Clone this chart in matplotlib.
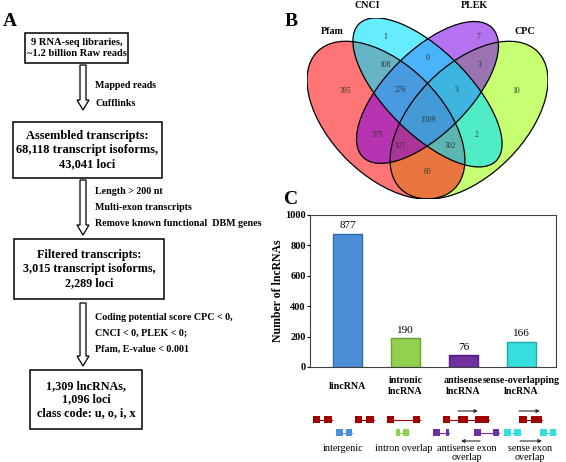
"""Recreate the three-panel lncRNA identification figure (flowchart, Venn, bar chart)."""

import matplotlib
matplotlib.use("Agg")
import matplotlib.pyplot as plt
from matplotlib.patches import Ellipse, FancyArrow, Rectangle

# ---- data -----------------------------------------------------------------
FLOW_BOXES = [
    "9 RNA-seq libraries,\n~1.2 billion Raw reads",
    "Assembled transcripts:\n68,118 transcript isoforms,\n43,041 loci",
    "Filtered transcripts:\n3,015 transcript isoforms,\n2,289 loci",
    "1,309 lncRNAs,\n1,096 loci\nclass code: u, o, i, x",
]
FLOW_STEPS = [
    ["Mapped reads", "Cufflinks"],
    ["Length > 200 nt", "Multi-exon transcripts",
     "Remove known functional  DBM genes"],
    ["Coding potential score CPC < 0,", "CNCI < 0, PLEK < 0;",
     "Pfam, E-value < 0.001"],
]

VENN_SETS = ["Pfam", "CNCI", "PLEK", "CPC"]
# region counts: Pfam, CNCI, PLEK, CPC only; then overlaps
VENN_COUNTS = [395, 1, 7, 10, 108, 0, 3, 276, 3, 1309, 379, 2, 127, 302, 60]

CATEGORIES = ["lincRNA", "intronic\nlncRNA", "antisense\nlncRNA",
              "sense-overlapping\nlncRNA"]
LNC_COUNTS = [877, 190, 76, 166]
GENE_TYPES = ["intergenic", "intron overlap", "antisense exon\noverlap",
              "sense exon\noverlap"]

# ---- layout / style -------------------------------------------------------
W, H = 566, 462
BOX_RECTS = [(25, 33, 128, 63), (13, 122, 162, 178), (14, 239, 164, 299),
             (30, 370, 142, 429)]
BOX_FONTS = [7.6, 9.0, 8.7, 8.7]
ARROWS = [(65, 110), (180, 235), (303, 366)]
STEP_Y0 = [86, 191, 318]
STEP_DY = [17, 16, 15.5]

# VennDiagram-style ellipses (x, y, a, b, rotation) in unit coords
ELLIPSES = {
    "CPC": (0.65, 0.47, 0.35, 0.20, 45, "#99ff00", 0.55),
    "Pfam": (0.35, 0.47, 0.35, 0.20, 135, "#ff1a1a", 0.6),
    "PLEK": (0.50, 0.57, 0.33, 0.15, 45, "#7a00e6", 0.55),
    "CNCI": (0.50, 0.57, 0.35, 0.15, 135, "#00e0ff", 0.6),
}
VENN_LABEL_POS = [(332, 31), (367, 6), (474, 6), (525, 32)]
VENN_COUNT_POS = [(345, 91), (385, 37), (478, 37), (516, 91), (385, 65),
                  (428, 58), (480, 65), (400, 90), (457, 90), (428, 120),
                  (377, 135), (477, 135), (400, 146), (450, 146), (427, 172)]

BAR_COLORS = ["#4a8fd8", "#92d050", "#7030a0", "#36dede"]
BAR_EDGES = ["#2f6aa6", "#6e9e35", "#4d1f72", "#1fa8a8"]

EXON_RED = "#a00000"
GENE_COLORS = ["#4a8fd8", "#92d050", "#7030a0", "#36dede"]

plt.rcParams.update({
    "font.family": "serif",
    "font.serif": ["Liberation Serif", "DejaVu Serif"],
})

fig = plt.figure(figsize=(W / 100, H / 100), dpi=100)

# ---- panel B: Venn --------------------------------------------------------
axv = fig.add_axes([307 / W, 1 - 199 / H, 241 / W, 181 / H])
axv.set_xlim(0.065, 0.935)
axv.set_ylim(0.185, 0.839)
axv.axis("off")
for name, (cx, cy, a, b, rot, col, alpha) in ELLIPSES.items():
    axv.add_patch(Ellipse((cx, cy), 2 * a, 2 * b, angle=rot,
                          facecolor=col, alpha=alpha, edgecolor="none"))
for name, (cx, cy, a, b, rot, col, alpha) in ELLIPSES.items():
    axv.add_patch(Ellipse((cx, cy), 2 * a, 2 * b, angle=rot,
                          facecolor="none", edgecolor="black", lw=0.9))

# ---- panel C: bar chart ---------------------------------------------------
axb = fig.add_axes([310 / W, 1 - 367 / H, 246 / W, 152 / H])
xs = range(len(LNC_COUNTS))
axb.bar(xs, LNC_COUNTS, width=0.5, color=BAR_COLORS, edgecolor=BAR_EDGES,
        linewidth=1.0, zorder=2)
for x, v in zip(xs, LNC_COUNTS):
    axb.text(x, v + 22, str(v), ha="center", va="bottom", fontsize=8)
axb.set_xlim(-0.647, 3.595)
axb.set_ylim(0, 1000)
axb.set_yticks(range(0, 1001, 200))
axb.set_xticks([])
axb.tick_params(axis="y", direction="out", length=2, width=0.8,
                labelsize=7.5, pad=1)
for lab in axb.get_yticklabels():
    lab.set_fontweight("bold")
for sp in axb.spines.values():
    sp.set_linewidth(0.8)
    sp.set_color("#404040")
axb.set_ylabel("Number of lncRNAs", fontsize=8.5, fontweight="bold",
               labelpad=1)
for x, cat in zip(xs, CATEGORIES):
    axb.annotate(cat, xy=(x, 0), xycoords="data", xytext=(0, -13.8),
                 textcoords="offset points", ha="center", va="center",
                 fontsize=7.2, fontweight="bold", linespacing=1.2)

# ---- overlay in pixel coordinates ----------------------------------------
ax = fig.add_axes([0, 0, 1, 1])
ax.set_xlim(0, W)
ax.set_ylim(H, 0)
ax.axis("off")
ax.patch.set_alpha(0)

# panel letters
for letter, (lx, ly) in zip("ABC", [(10, 22), (291, 22), (291, 200)]):
    ax.text(lx, ly, letter, fontsize=14, fontweight="bold",
            ha="center", va="center")

# panel A flowchart
for (x0, y0, x1, y1), txt, fs in zip(BOX_RECTS, FLOW_BOXES, BOX_FONTS):
    ax.add_patch(Rectangle((x0, y0), x1 - x0, y1 - y0, facecolor="white",
                           edgecolor="black", lw=1.1))
    ax.text((x0 + x1) / 2, (y0 + y1) / 2, txt, ha="center", va="center",
            fontsize=fs, fontweight="bold", linespacing=1.2)
for (ya, yb), steps, sy, sdy in zip(ARROWS, FLOW_STEPS, STEP_Y0, STEP_DY):
    ax.add_patch(FancyArrow(83, ya, 0, yb - ya, width=6, head_width=12,
                            head_length=10, length_includes_head=True,
                            facecolor="white", edgecolor="black", lw=0.9))
    for i, s in enumerate(steps):
        ax.text(95, sy + i * sdy, s, ha="left", va="center", fontsize=7.2,
                fontweight="bold")

# panel B labels
for name, (px, py) in zip(VENN_SETS, VENN_LABEL_POS):
    ax.text(px, py, name, ha="center", va="center", fontsize=7.2,
            fontweight="bold")
for n, (px, py) in zip(VENN_COUNTS, VENN_COUNT_POS):
    ax.text(px, py, str(n), ha="center", va="center", fontsize=5.5,
            color="#303030")

# gene structure sketches under panel C
ROW1, ROW2, EH = 419.5, 432.5, 7


def exon_group(exons, y, color):
    ax.plot([exons[0][0], exons[-1][1]], [y, y], color=color, lw=0.8,
            zorder=3)
    for x0, x1 in exons:
        ax.add_patch(Rectangle((x0, y - EH / 2), x1 - x0, EH,
                               facecolor=color, edgecolor="none", zorder=4))


exon_group([(313, 320), (324, 332)], ROW1, EXON_RED)
exon_group([(355, 362), (366, 374)], ROW1, EXON_RED)
exon_group([(336, 343), (346, 352)], ROW2, GENE_COLORS[0])
exon_group([(387, 394), (413, 420)], ROW1, EXON_RED)
exon_group([(396, 400), (403, 409)], ROW2, GENE_COLORS[1])
exon_group([(443, 450), (458, 468), (475, 489)], ROW1, EXON_RED)
exon_group([(433, 440), (446, 449)], ROW2, GENE_COLORS[2])
exon_group([(474, 481), (493, 499)], ROW2, GENE_COLORS[2])
exon_group([(519, 527), (531, 542)], ROW1, EXON_RED)
exon_group([(504, 511), (514, 521)], ROW2, GENE_COLORS[3])
exon_group([(540, 547), (550, 556)], ROW2, GENE_COLORS[3])

for (xa, xb, y) in [(458, 478, 411), (480, 461, 441), (519, 540, 411),
                    (520, 542, 441)]:
    ax.annotate("", xy=(xb, y), xytext=(xa, y),
                arrowprops=dict(arrowstyle="-|>", color="#303030", lw=0.8,
                                mutation_scale=5, shrinkA=0, shrinkB=0))

for lbl, gx in zip(GENE_TYPES, [343, 404, 467, 530]):
    ax.text(gx, 444, lbl, ha="center", va="top", fontsize=7.3,
            linespacing=1.0)

fig.savefig("out.png", dpi=100)
